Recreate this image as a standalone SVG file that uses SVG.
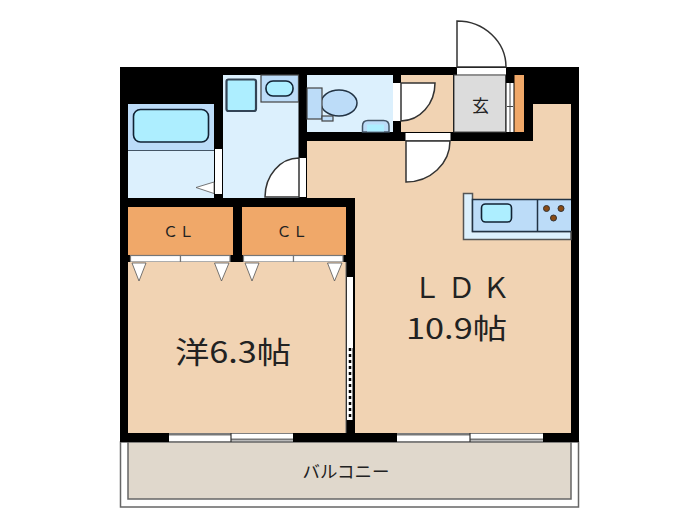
<svg xmlns="http://www.w3.org/2000/svg" width="700" height="525" viewBox="0 0 700 525">
<style>
text{font-family:"Noto Sans CJK JP","Noto Sans",sans-serif;fill:#222;text-anchor:middle}
.wall{fill:#000}
.floor{fill:#f1d3b3}
.wet{fill:#dcf0fd}
.fix{fill:#bcdcf8;stroke:#444;stroke-width:1.2}
.upper{fill:#bcdcf8}
.basin{fill:#adeeff;stroke:#123;stroke-width:1.6}
.cl{fill:#f0a869}
.open{fill:#fff}
.door{fill:#fff;stroke:#333;stroke-width:1.5}
.tri{fill:#fff;stroke:#555;stroke-width:.8}
.sash{fill:#fff;stroke:#777;stroke-width:1.2}
.big{font-size:30px}
.mid{font-size:28px}
.cltxt{font-size:15px;letter-spacing:1px}
</style>
<g id="balcony">
<rect x="120.500" y="442" width="458" height="65" fill="#fff" stroke="#666" stroke-width="1.500"/>
<rect x="128" y="442" width="443" height="57" fill="#e0d8cc" stroke="#666" stroke-width="1.500"/>
<text x="346" y="478" font-size="17" textLength="87" lengthAdjust="spacingAndGlyphs">バルコニー</text>
</g>
<rect id="walls" class="wall" x="120" y="67" width="459" height="375"/>
<g id="bath">
<rect class="wet" x="128" y="104" width="86" height="94"/>
<rect class="upper" x="128" y="104" width="86" height="46"/>
<path d="M128 150.500H214" stroke="#456" stroke-width="1.200"/>
<rect class="basin" x="133.500" y="109.500" width="75" height="32.500" rx="7"/>
<rect class="open" x="215" y="149" width="7" height="45"/>
<path class="tri" d="M214 182L196 187.500L214 193.500Z"/>
</g>
<g id="washroom">
<rect class="wet" x="223" y="75" width="75.500" height="123"/>
<rect x="226.500" y="79.500" width="29.500" height="31.500" rx="2" fill="#adeeff" stroke="#345" stroke-width="2.200"/>
<rect class="fix" x="261" y="75" width="37.500" height="27"/>
<rect class="basin" x="266" y="81" width="27" height="15" rx="7"/>
<rect class="open" x="299" y="158" width="7" height="39"/>
<path class="door" d="M299 158A34 39 0 0 0 265 197H299Z"/>
</g>
<g id="toilet">
<rect class="wet" x="307" y="75" width="86" height="57"/>
<ellipse cx="339" cy="103" rx="18" ry="13" fill="#bcdcf8" stroke="#234" stroke-width="1.500"/>
<rect class="fix" x="307" y="88" width="15" height="31"/>
<rect class="fix" x="322" y="116" width="11" height="5"/>
<path d="M362.500 132V126Q362.500 120.500 368 120.500H383.500Q389 120.500 389 126V132Z" fill="#bcdcf8" stroke="#456" stroke-width="1.500"/>
<rect x="367" y="124.500" width="17" height="7" fill="#adeeff"/>
<rect class="open" x="393" y="83" width="8" height="38"/>
</g>
<g id="hall">
<rect class="floor" x="401" y="75" width="52" height="57"/>
<path class="door" d="M401 83H435A34 38 0 0 1 401 121Z"/>
</g>
<g id="entrance">
<rect x="454" y="75" width="51.500" height="57" fill="#dcdcdc" stroke="#444" stroke-width="1"/>
<text x="480.500" y="112" font-size="17">玄</text>
<rect class="open" x="457" y="68" width="49" height="6.500"/>
<path class="door" d="M457 67V21A49 46 0 0 1 506 67Z"/>
<rect class="open" x="506.500" y="83" width="7" height="49"/>
<path d="M510 83V132M507 106.500H513" stroke="#444" stroke-width="1"/>
<rect class="cl" x="514.500" y="75" width="9.500" height="57"/>
</g>
<g id="ldk">
<path class="floor" d="M307 141H533V104H571V433H355V198H307Z"/>
<rect class="open" x="405.500" y="133" width="45" height="7.500"/>
<path class="door" d="M406 141V182A44 41 0 0 0 450 141Z"/>
<path d="M463.500 193.500H472.500V231.500H571V239.500H463.500Z" fill="#dcf0fd" stroke="#555" stroke-width="1.500"/>
<path d="M472.500 199.500H571V231.500H472.500Z" fill="#bcdcf8"/>
<path d="M571 199.500H472.500V231.500H571M537.500 199.500V231.500" fill="none" stroke="#234" stroke-width="1.500"/>
<rect class="basin" x="481.500" y="204" width="30" height="18" rx="4"/>
<g fill="#8a4b14" stroke="#333" stroke-width="1"><circle cx="546.500" cy="208.500" r="3"/><circle cx="561" cy="208.500" r="3"/><circle cx="553.500" cy="218" r="3"/></g>
<text class="mid" x="461.500" y="298" textLength="97" lengthAdjust="spacing">ＬＤＫ</text>
<text class="mid" x="456.500" y="339" textLength="101" lengthAdjust="spacingAndGlyphs">10.9帖</text>
<rect class="open" x="397" y="433.500" width="146" height="8"/>
<path d="M397 434.500H470M470 439.500H543" stroke="#777" stroke-width="2"/>
<path d="M470 433V442" stroke="#333" stroke-width="1.200"/>
</g>
<g id="closet-left">
<rect class="cl" x="128" y="207" width="105" height="48"/>
<text class="cltxt" x="179" y="237">ＣＬ</text>
<rect class="sash" x="130.500" y="255.500" width="50" height="6.500"/>
<rect class="sash" x="180.500" y="255.500" width="49.500" height="6.500"/>
</g>
<g id="closet-right">
<rect class="cl" x="242" y="207" width="104" height="48"/>
<text class="cltxt" x="292.500" y="237">ＣＬ</text>
<rect class="sash" x="243.500" y="255.500" width="50" height="6.500"/>
<rect class="sash" x="293.500" y="255.500" width="49.500" height="6.500"/>
</g>
<g id="bedroom">
<path class="floor" d="M128 262H346V433H128Z"/>
<rect class="wall" x="233" y="255" width="9" height="7"/>
<path class="tri" d="M132 263H146L139 281Z"/>
<path class="tri" d="M214.500 263H229L221.500 281Z"/>
<path class="tri" d="M245 263H259L252 281Z"/>
<path class="tri" d="M327.500 263H342L334.500 281Z"/>
<text class="big" x="233" y="363" textLength="116" lengthAdjust="spacingAndGlyphs">洋6.3帖</text>
<rect class="open" x="347" y="277" width="6" height="143"/>
<path d="M350 348V420" stroke="#000" stroke-width="2.500" stroke-dasharray="3 3"/>
<path d="M353 348V420" stroke="#000" stroke-width="1"/>
<path d="M346 262V433" stroke="#666" stroke-width="1"/>
<rect class="open" x="169" y="433.500" width="124" height="8"/>
<path d="M169 434.500H231M231 439.500H293" stroke="#777" stroke-width="2"/>
<path d="M231 433V442" stroke="#333" stroke-width="1.200"/>
</g>
</svg>
